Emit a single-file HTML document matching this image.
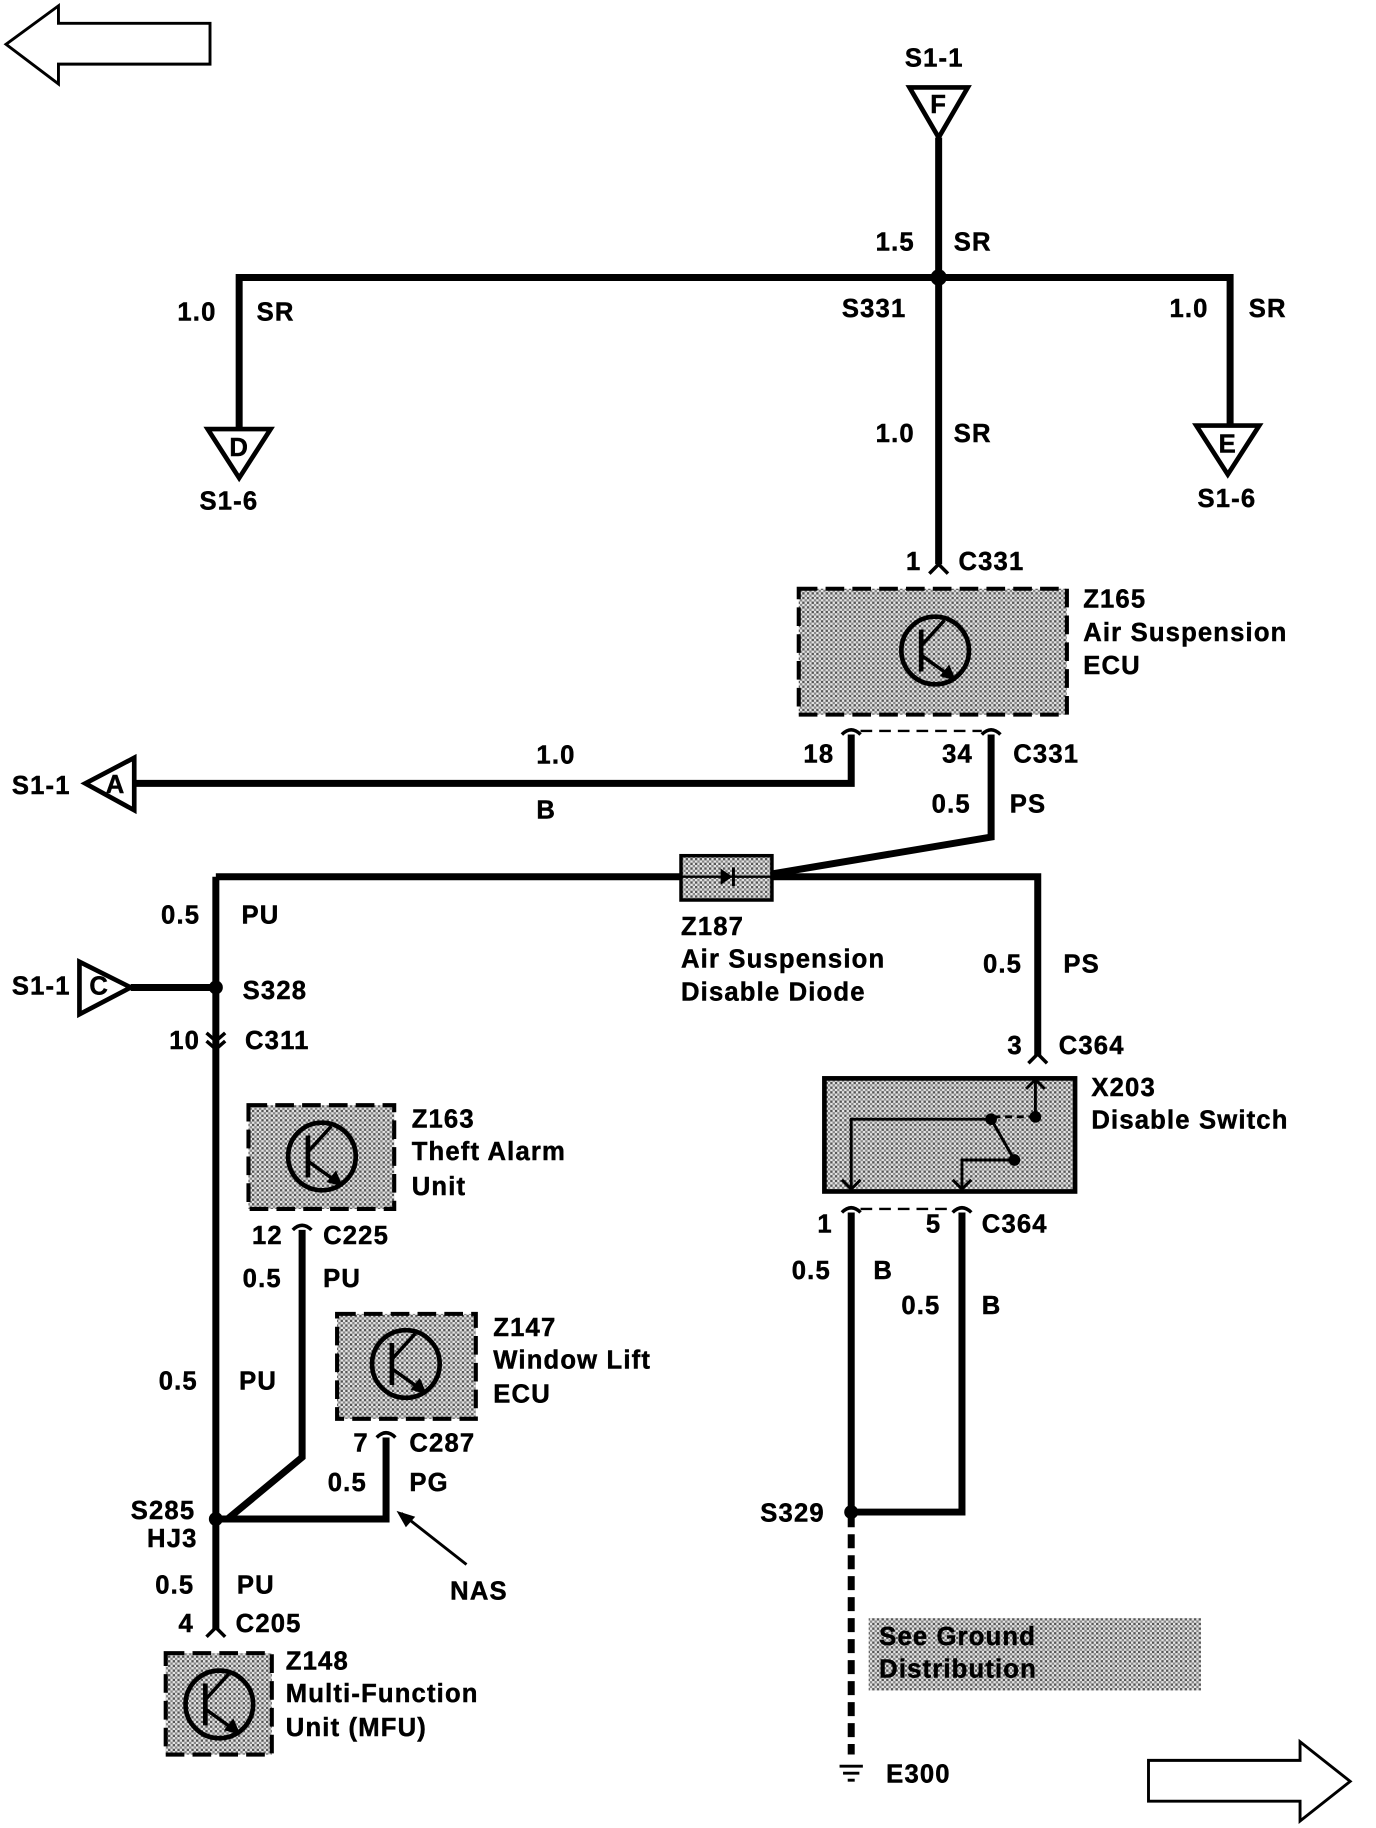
<!DOCTYPE html>
<html><head><meta charset="utf-8"><style>
html,body{margin:0;padding:0;background:#fff;}
svg{display:block;}
text{font-family:"Liberation Sans",Arial,sans-serif;font-weight:bold;font-size:22px;letter-spacing:1px;fill:#000;stroke:#000;stroke-width:0.4px;}
</style></head><body>
<svg width="1376" height="1828" viewBox="0 0 1180 1568" xmlns="http://www.w3.org/2000/svg">
<defs>
<pattern id="dots" width="4" height="4" patternUnits="userSpaceOnUse">
<rect width="4" height="4" fill="#e4e4e4"/><rect width="2" height="2" fill="#555"/><rect x="2" y="2" width="2" height="2" fill="#888"/>
</pattern>
<g id="tr">
<circle cx="0" cy="0" r="29" fill="none" stroke="#000" stroke-width="4"/>
<line x1="-12" y1="-18" x2="-12" y2="18" stroke="#000" stroke-width="4"/>
<line x1="-12" y1="-4" x2="8" y2="-26" stroke="#000" stroke-width="3"/>
<line x1="-12" y1="4" x2="16" y2="24" stroke="#000" stroke-width="3"/>
<polygon points="18,26 4,22 12,12" fill="#000"/>
</g>
</defs>
<g fill="none" stroke="#000">
<polygon points="5,38 50,5 50,20 180,20 180,55 50,55 50,72" stroke-width="2.5"/>
<polygon points="1158,1528 1115,1494 1115,1510 985,1510 985,1545 1115,1545 1115,1562" stroke-width="2.5"/>
<polygon points="780,75 830,75 805,118" stroke-width="4" fill="#fff"/>
<polygon points="178,368 232,368 205,410" stroke-width="4" fill="#fff"/>
<polygon points="1026,365 1080,365 1053,407" stroke-width="4" fill="#fff"/>
<g stroke-width="6">
<polyline points="805,118 805,484"/>
<polyline points="205,368 205,238 1055,238 1055,365"/>
<polyline points="730,630 730,672 115,672"/>
<polyline points="850,630 850,718 660,750"/>
<polyline points="185,752 584,752"/>
<polyline points="662,752 890,752 890,906"/>
<polyline points="185,752 185,1398"/>
<polyline points="112,847 185,847"/>
<polyline points="259,1055 259,1250 195,1303"/>
<polyline points="331,1233 331,1303 185,1303"/>
<polyline points="730,1040 730,1298"/>
<polyline points="825,1040 825,1297 730,1297"/>
<polyline points="730,1298 730,1505" stroke-dasharray="12,6"/>
</g>
<polygon points="73,672 115,650 115,695" stroke-width="4" fill="#fff"/>
<polygon points="112,847 68,825 68,870" stroke-width="4" fill="#fff"/>
<g stroke-width="3">
<path d="M797,492 L805,484 L813,492"/>
<path d="M722,630 Q730,622 738,630"/><path d="M842,630 Q850,622 858,630"/>
<path d="M882,912 L890,904 L898,912"/>
<path d="M177,886 L185,893 L193,886"/><path d="M177,893 L185,900 L193,893"/>
<path d="M251,1055 Q259,1047 267,1055"/>
<path d="M323,1233 Q331,1225 339,1233"/>
<path d="M177,1404 L185,1396 L193,1404"/>
<path d="M722,1040 Q730,1032 738,1040"/><path d="M817,1040 Q825,1032 833,1040"/>
</g>
<rect x="685" y="505" width="230" height="108" fill="url(#dots)" stroke-width="3.5" stroke-dasharray="16,7"/>
<line x1="738" y1="627" x2="842" y2="627" stroke-width="2" stroke-dasharray="10,6"/>
<rect x="213" y="948" width="125" height="89" fill="url(#dots)" stroke-width="3.5" stroke-dasharray="16,7"/>
<rect x="289" y="1127" width="119" height="90" fill="url(#dots)" stroke-width="3.5" stroke-dasharray="16,7"/>
<rect x="142" y="1418" width="91" height="87" fill="url(#dots)" stroke-width="3.5" stroke-dasharray="16,7"/>
<rect x="707" y="925" width="215" height="97" fill="url(#dots)" stroke-width="4"/>
<line x1="738" y1="1037" x2="817" y2="1037" stroke-width="2" stroke-dasharray="10,6"/>
<rect x="584" y="734" width="78" height="38" fill="url(#dots)" stroke-width="3"/>
<line x1="584" y1="752" x2="662" y2="752" stroke-width="2"/>
<rect x="745" y="1388" width="285" height="62" fill="url(#dots)" stroke="none"/>
<g stroke-width="2.5">
<polyline points="888,958 888,926"/><path d="M880,934 L888,926 L896,934"/>
<line x1="852" y1="958" x2="886" y2="958" stroke-dasharray="6,4"/>
<polyline points="850,960 730,960 730,1020"/><path d="M722,1012 L730,1020 L738,1012"/>
<line x1="850" y1="960" x2="870" y2="995"/>
<polyline points="870,995 825,995 825,1020"/><path d="M817,1012 L825,1020 L833,1012"/>
<line x1="400" y1="1342" x2="344" y2="1298"/>
</g>
<polygon points="340,1296 356,1301 348,1310" fill="#000" stroke="none"/>
<g stroke-width="2.5"><line x1="720" y1="1515" x2="740" y2="1515"/><line x1="723" y1="1521" x2="737" y2="1521"/><line x1="727" y1="1527" x2="733" y2="1527"/></g>
</g>
<polygon points="618,745 618,759 628,752" fill="#000"/><line x1="629" y1="744" x2="629" y2="760" stroke="#000" stroke-width="2.5"/>
<g fill="#000">
<circle cx="805" cy="238" r="7"/><circle cx="185" cy="847" r="6"/><circle cx="185" cy="1303" r="6"/><circle cx="730" cy="1297" r="6"/>
<circle cx="888" cy="958" r="5"/><circle cx="850" cy="960" r="5"/><circle cx="870" cy="995" r="5"/>
</g>
<use href="#tr" x="802" y="558"/><use href="#tr" x="276" y="992"/><use href="#tr" x="348" y="1170"/><use href="#tr" x="188" y="1462"/>
<g text-anchor="middle">
<text x="805" y="97" font-size="17" letter-spacing="0">F</text>
<text x="205" y="391" font-size="17" letter-spacing="0">D</text>
<text x="1053" y="388" font-size="17" letter-spacing="0">E</text>
<text x="99" y="680" font-size="17" letter-spacing="0">A</text>
<text x="85" y="853" font-size="17" letter-spacing="0">C</text>
</g>
<text x="776" y="57">S1-1</text>
<text x="751" y="215">1.5</text><text x="818" y="215">SR</text>
<text x="152" y="275">1.0</text><text x="220" y="275">SR</text>
<text x="722" y="272">S331</text>
<text x="1003" y="272">1.0</text><text x="1071" y="272">SR</text>
<text x="751" y="379">1.0</text><text x="818" y="379">SR</text>
<text x="171" y="437">S1-6</text><text x="1027" y="435">S1-6</text>
<text x="777" y="489">1</text><text x="822" y="489">C331</text>
<text x="929" y="521">Z165</text><text x="929" y="550">Air Suspension</text><text x="929" y="578">ECU</text>
<text x="10" y="681">S1-1</text>
<text x="460" y="655">1.0</text><text x="460" y="702">B</text>
<text x="689" y="654">18</text><text x="808" y="654">34</text><text x="869" y="654">C331</text>
<text x="799" y="697">0.5</text><text x="866" y="697">PS</text>
<text x="138" y="792">0.5</text><text x="207" y="792">PU</text>
<text x="584" y="802">Z187</text><text x="584" y="830">Air Suspension</text><text x="584" y="858">Disable Diode</text>
<text x="843" y="834">0.5</text><text x="912" y="834">PS</text>
<text x="10" y="853">S1-1</text><text x="208" y="857">S328</text>
<text x="145" y="900">10</text><text x="210" y="900">C311</text>
<text x="353" y="967">Z163</text><text x="353" y="995">Theft Alarm</text><text x="353" y="1025">Unit</text>
<text x="216" y="1067">12</text><text x="277" y="1067">C225</text>
<text x="208" y="1104">0.5</text><text x="277" y="1104">PU</text>
<text x="136" y="1192">0.5</text><text x="205" y="1192">PU</text>
<text x="423" y="1146">Z147</text><text x="423" y="1174">Window Lift</text><text x="423" y="1203">ECU</text>
<text x="303" y="1245">7</text><text x="351" y="1245">C287</text>
<text x="281" y="1279">0.5</text><text x="351" y="1279">PG</text>
<text x="112" y="1303">S285</text><text x="126" y="1327">HJ3</text>
<text x="386" y="1372">NAS</text>
<text x="133" y="1367">0.5</text><text x="203" y="1367">PU</text>
<text x="153" y="1400">4</text><text x="202" y="1400">C205</text>
<text x="245" y="1432">Z148</text><text x="245" y="1460">Multi-Function</text><text x="245" y="1489">Unit (MFU)</text>
<text x="864" y="904">3</text><text x="908" y="904">C364</text>
<text x="936" y="940">X203</text><text x="936" y="968">Disable Switch</text>
<text x="701" y="1057">1</text><text x="794" y="1057">5</text><text x="842" y="1057">C364</text>
<text x="679" y="1097">0.5</text><text x="749" y="1097">B</text>
<text x="773" y="1127">0.5</text><text x="842" y="1127">B</text>
<text x="652" y="1305">S329</text>
<text x="754" y="1411">See Ground</text><text x="754" y="1439">Distribution</text>
<text x="760" y="1529">E300</text>
</svg>
</body></html>
